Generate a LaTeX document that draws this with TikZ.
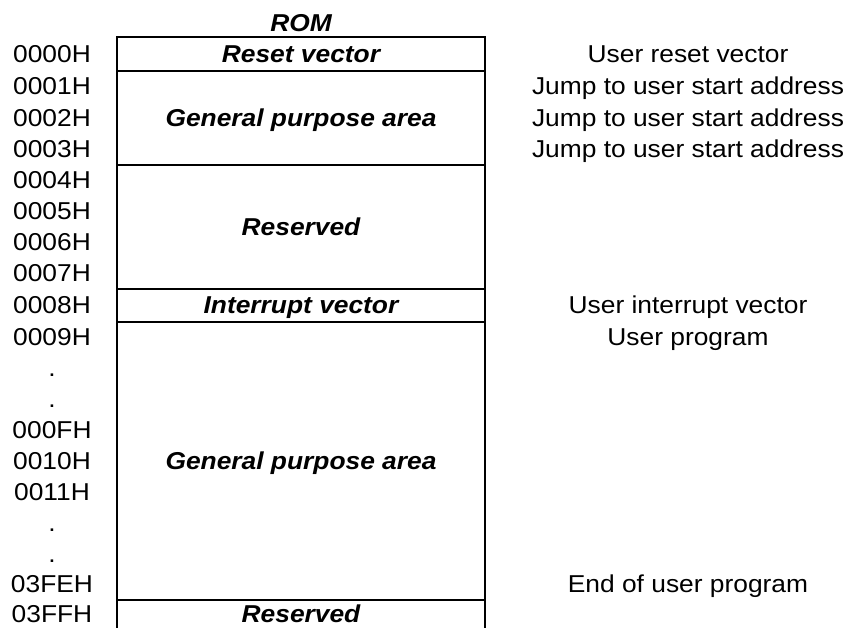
\documentclass[tikz,border=0pt]{standalone}
\usepackage{fontspec}
\setmainfont[FakeStretch=1.08]{Liberation Sans}
\begin{document}
\begin{tikzpicture}[x=1pt,y=-1pt,
  txt/.style={anchor=base, inner sep=0pt, font=\fontsize{24.4}{29}\selectfont},
  addr/.style={txt},
  note/.style={txt},
  area/.style={txt, font=\fontsize{24.4}{29}\selectfont\bfseries\itshape},
  rule/.style={line width=2pt, line cap=rect}]
\useasboundingbox (0,0) rectangle (849,628);
% box frame
\coordinate (tl) at (117,37);
\coordinate (tr) at (485,37);
\coordinate (bl) at (117,628);
\coordinate (br) at (485,628);
\coordinate (l1) at (117,71);   \coordinate (r1) at (485,71);
\coordinate (l2) at (117,165);  \coordinate (r2) at (485,165);
\coordinate (l3) at (117,289);  \coordinate (r3) at (485,289);
\coordinate (l4) at (117,322);  \coordinate (r4) at (485,322);
\coordinate (l5) at (117,600);  \coordinate (r5) at (485,600);
\draw[line width=2pt] (bl) -- (tl) -- (tr) -- (br);
\draw[rule] (l1) -- (r1);
\draw[rule] (l2) -- (r2);
\draw[rule] (l3) -- (r3);
\draw[rule] (l4) -- (r4);
\draw[rule] (l5) -- (r5);
% title
\node[area] (rom) at (301,32) {ROM};
% areas
\node[area] (a1) at (301,63) {Reset vector};
\node[area] (a2) at (301,126.5) {General purpose area};
\node[area] (a3) at (301,235.5) {Reserved};
\node[area] (a4) at (301,314) {Interrupt vector};
\node[area] (a5) at (301,469) {General purpose area};
\node[area] (a6) at (301,622) {Reserved};
% addresses
\node[addr] (m0) at (52,63) {0000H};
\node[addr] (m1) at (52,95) {0001H};
\node[addr] (m2) at (52,126.5) {0002H};
\node[addr] (m3) at (52,158) {0003H};
\node[addr] (m4) at (52,189) {0004H};
\node[addr] (m5) at (52,220) {0005H};
\node[addr] (m6) at (52,251) {0006H};
\node[addr] (m7) at (52,282) {0007H};
\node[addr] (m8) at (52,314) {0008H};
\node[addr] (m9) at (52,346) {0009H};
\node[addr] (d1) at (52,376.5) {.};
\node[addr] (d2) at (52,407) {.};
\node[addr] (mf) at (52,438) {000FH};
\node[addr] (m10) at (52,469) {0010H};
\node[addr] (m11) at (52,500) {0011H};
\node[addr] (d3) at (52,531) {.};
\node[addr] (d4) at (52,562) {.};
\node[addr] (mfe) at (52,592.5) {03FEH};
\node[addr] (mff) at (52,622) {03FFH};
% notes
\node[note] (n0) at (688,63) {User reset vector};
\node[note] (n1) at (688,95) {Jump to user start address};
\node[note] (n2) at (688,126.5) {Jump to user start address};
\node[note] (n3) at (688,158) {Jump to user start address};
\node[note] (n8) at (688,314) {User interrupt vector};
\node[note] (n9) at (688,346) {User program};
\node[note] (nfe) at (688,592.5) {End of user program};
\end{tikzpicture}
\end{document}
